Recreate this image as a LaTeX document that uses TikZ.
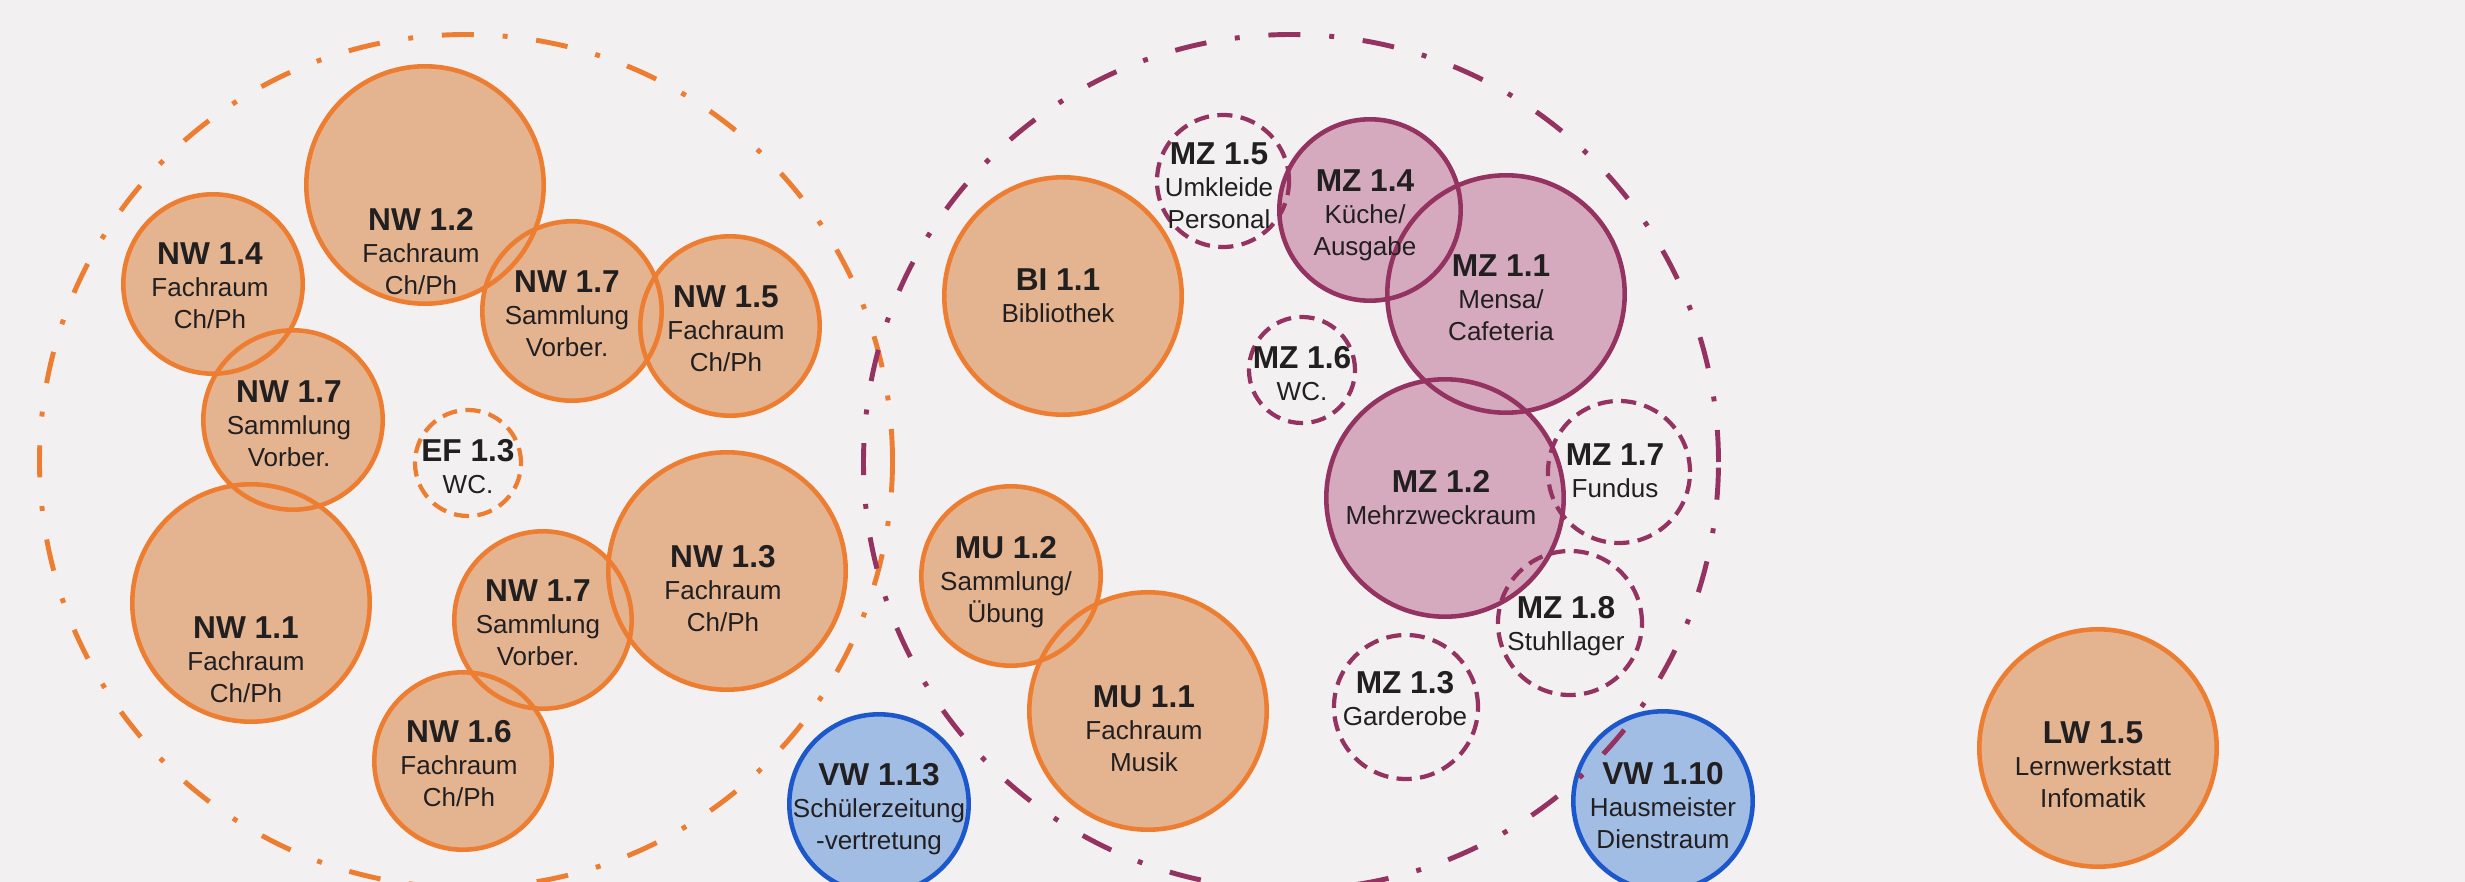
\documentclass[tikz,border=0pt]{standalone}
\usepackage{fontspec}
\setmainfont{Liberation Sans}
\usetikzlibrary{positioning}
\definecolor{PaperGray}{RGB}{242,240,241}
\definecolor{InkDark}{RGB}{34,31,32}
\definecolor{OrangeLine}{RGB}{237,125,49}
\definecolor{OrangeFill}{RGB}{228,180,144}
\definecolor{PlumLine}{RGB}{148,51,97}
\definecolor{PlumFill}{RGB}{214,170,190}
\definecolor{BlueLine}{RGB}{29,87,204}
\definecolor{BlueFill}{RGB}{162,189,228}
\newcommand{\raumnr}[1]{{\fontsize{9}{9.1}\selectfont\bfseries #1}}

\begin{document}
\begin{tikzpicture}[
    x=0.01cm, y=-0.01cm,
    fill-orange/.style={fill=OrangeFill},
    fill-plum/.style={fill=PlumFill},
    fill-blue/.style={fill=BlueFill},
    ring/.style={circle, inner sep=0pt, line width=1.3pt},
    room-orange/.style={ring, draw=OrangeLine},
    room-plum/.style={ring, draw=PlumLine},
    room-blue/.style={ring, draw=BlueLine},
    store-orange/.style={ring, draw=OrangeLine, line width=1.2pt, dash pattern=on 4.3pt off 2.4pt},
    store-plum/.style={ring, draw=PlumLine, line width=1.2pt, dash pattern=on 4.3pt off 2.4pt},
    zone/.style={circle, inner sep=0pt, line width=1.4pt, dash pattern=on 9.1pt off 8.2pt on 1.4pt off 8.2pt},
    roomtext/.style={anchor=north, align=center, inner sep=0pt, text=InkDark, font=\fontsize{7.4}{9.1}\selectfont}
  ]
    \fill[PaperGray] (0,0) rectangle (2465,882);
    \useasboundingbox (0,0) rectangle (2465,882);

    % Rooms with solid outline: name/x/y/radius/kind
    \def\solidrooms{nw12/425/185/121/orange, nw14/213/284/92/orange,
      nw17a/293/420/92/orange, nw11/251/603/121/orange, nw17b/572/311/92/orange,
      nw15/730/326/92/orange, nw13/727/571/121/orange, nw17c/543/620/91/orange,
      nw16/463/761/91/orange, bi11/1063/296/121/orange, mu12/1011/576/92/orange,
      mu11/1148/711/121/orange, lw15/2098/748/121/orange, mz14/1370/210/93/plum,
      mz11/1506/294/121/plum, mz12/1445/498/121/plum, vw13/879/804/92/blue,
      vw10/1663/801/92/blue}

    % Fills first, so that every outline stays visible
    \foreach \n/\x/\y/\rad/\kind in \solidrooms {
      \fill[fill-\kind] (\x,\y) circle[radius=\rad-2.3];
    }
    \foreach \n/\x/\y/\rad/\kind in \solidrooms {
      \node[room-\kind, minimum size=(2*\rad-4.6)*0.01cm] (\n) at (\x,\y) {};
    }

    % Side rooms (dashed)
    \foreach \n/\x/\y/\rad/\kind in {ef13/468/463/55/orange, mz15/1223/181/68/plum,
      mz16/1302/370/55/plum, mz17/1619/472/73/plum, mz18/1570/623/74/plum,
      mz13/1406/707/74/plum} {
      \node[store-\kind, minimum size=(2*\rad-4)*0.01cm] (\n) at (\x,\y) {};
    }

    % Zones
    \node[zone, draw=OrangeLine, minimum size=(2*429-5)*0.01cm] (nwzone) at (466,461) {};
    \node[zone, draw=PlumLine, minimum size=(2*430-5)*0.01cm] (mzzone) at (1291,462) {};

    % Labels
    \node[roomtext] (nw12t) at (421,208) {\raumnr{NW 1.2}\\Fachraum\\Ch/Ph};
    \node[roomtext] (nw14t) at (210,242) {\raumnr{NW 1.4}\\Fachraum\\Ch/Ph};
    \node[roomtext] (nw17at) at (289,380) {\raumnr{NW 1.7}\\Sammlung\\Vorber.};
    \node[roomtext] (nw11t) at (246,616) {\raumnr{NW 1.1}\\Fachraum\\Ch/Ph};
    \node[roomtext] (nw17bt) at (567,270) {\raumnr{NW 1.7}\\Sammlung\\Vorber.};
    \node[roomtext] (nw15t) at (726,285) {\raumnr{NW 1.5}\\Fachraum\\Ch/Ph};
    \node[roomtext] (ef13t) at (468,439) {\raumnr{EF 1.3}\\WC.};
    \node[roomtext] (nw13t) at (723,545) {\raumnr{NW 1.3}\\Fachraum\\Ch/Ph};
    \node[roomtext] (nw17ct) at (538,579) {\raumnr{NW 1.7}\\Sammlung\\Vorber.};
    \node[roomtext] (nw16t) at (459,720) {\raumnr{NW 1.6}\\Fachraum\\Ch/Ph};
    \node[roomtext] (bi11t) at (1058,268) {\raumnr{BI 1.1}\\Bibliothek};
    \node[roomtext] (mz15t) at (1219,142) {\raumnr{MZ 1.5}\\Umkleide\\Personal};
    \node[roomtext] (mz14t) at (1365,169) {\raumnr{MZ 1.4}\\Küche/\\Ausgabe};
    \node[roomtext] (mz11t) at (1501,254) {\raumnr{MZ 1.1}\\Mensa/\\Cafeteria};
    \node[roomtext] (mz16t) at (1302,346) {\raumnr{MZ 1.6}\\WC.};
    \node[roomtext] (mz12t) at (1441,470) {\raumnr{MZ 1.2}\\Mehrzweckraum};
    \node[roomtext] (mz17t) at (1615,443) {\raumnr{MZ 1.7}\\Fundus};
    \node[roomtext] (mz18t) at (1566,596) {\raumnr{MZ 1.8}\\Stuhllager};
    \node[roomtext] (mz13t) at (1405,671) {\raumnr{MZ 1.3}\\Garderobe};
    \node[roomtext] (mu12t) at (1006,536) {\raumnr{MU 1.2}\\Sammlung/\\Übung};
    \node[roomtext] (mu11t) at (1144,685) {\raumnr{MU 1.1}\\Fachraum\\Musik};
    \node[roomtext] (vw13t) at (879,763) {\raumnr{VW 1.13}\\Schülerzeitung\\-vertretung};
    \node[roomtext] (vw10t) at (1663,762) {\raumnr{VW 1.10}\\Hausmeister\\Dienstraum};
    \node[roomtext] (lw15t) at (2093,721) {\raumnr{LW 1.5}\\Lernwerkstatt\\Infomatik};
\end{tikzpicture}
\end{document}
